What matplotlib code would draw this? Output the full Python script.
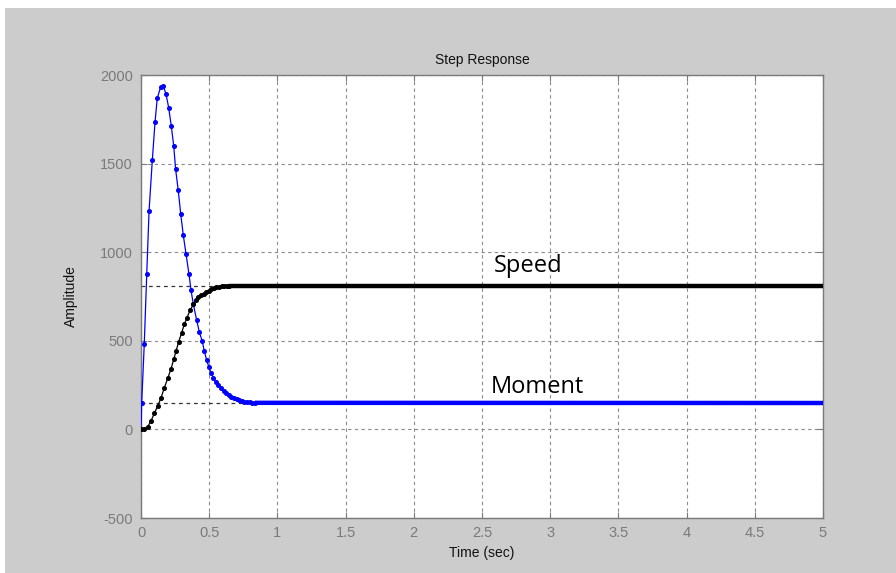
import matplotlib
matplotlib.use("Agg")
import matplotlib.pyplot as plt
from matplotlib import font_manager
from matplotlib.patches import Rectangle

plt.rcParams["axes.unicode_minus"] = False

# Moment (blue) step response samples
moment_t = [0.000, 0.005, 0.024, 0.042, 0.059, 0.083, 0.103, 0.119, 0.144, 0.163,
            0.183, 0.203, 0.222, 0.240, 0.254, 0.273, 0.291, 0.310, 0.330, 0.352,
            0.367, 0.384, 0.408, 0.427, 0.449, 0.464, 0.481, 0.498, 0.513, 0.530,
            0.549, 0.568, 0.587, 0.606, 0.625, 0.644, 0.663, 0.682, 0.701, 0.720,
            0.739, 0.758, 0.777, 0.796, 0.815, 0.834, 5.0]
moment_y = [0, 150, 483, 875, 1232, 1520, 1736, 1868, 1932, 1937,
            1894, 1815, 1712, 1599, 1467, 1349, 1217, 1096, 991, 875,
            784, 705, 617, 551, 498, 442, 391, 352, 319, 291,
            270, 250, 232, 216, 203, 192, 183, 175, 169, 164,
            160, 157, 154, 152, 151, 150, 149]

# Speed (black) step response samples
speed_t = [0.000, 0.024, 0.049, 0.073, 0.097, 0.122, 0.147, 0.171, 0.196, 0.220,
           0.240, 0.257, 0.276, 0.298, 0.317, 0.337, 0.359, 0.384, 0.403, 0.421,
           0.440, 0.459, 0.477, 0.496, 0.515, 0.534, 0.553, 0.572, 0.591, 0.610,
           0.629, 0.648, 5.0]
speed_y = [0, 3, 15, 47, 90, 131, 178, 235, 288, 342,
           395, 442, 494, 545, 592, 630, 671, 705, 730, 745,
           756, 766, 775, 783, 790, 796, 801, 805, 808, 810,
           811, 812, 812]

steady = {"speed": 812, "moment": 149}
xticks = [0, 0.5, 1, 1.5, 2, 2.5, 3, 3.5, 4, 4.5, 5]
xticklabels = ["0", "0.5", "1", "1.5", "2", "2.5", "3", "3.5", "4", "4.5", "5"]
yticks = [-500, 0, 500, 1000, 1500, 2000]

installed = {f.name for f in font_manager.fontManager.ttflist}
narrow = "Liberation Sans Narrow" if "Liberation Sans Narrow" in installed else "Liberation Sans"
label_font = "Open Sans" if "Open Sans" in installed else "DejaVu Sans"

GREY = "#7a7a7a"

fig = plt.figure(figsize=(8.96, 5.73), dpi=100, facecolor="white")
fig.patches.append(Rectangle((5 / 896, 0), 1, 1 - 8 / 573, transform=fig.transFigure,
                             facecolor="#cccccc", edgecolor="none", zorder=-10))
ax = fig.add_axes([141 / 896, 1 - 518 / 573, 682 / 896, 443 / 573])
ax.set_facecolor("white")

# steady-state lines (mostly hidden under the settled curves)
for v in steady.values():
    ax.axhline(v, color="#333333", lw=0.9, ls=(0, (3, 3)), zorder=2)

n_m = len(moment_t)
ax.plot(moment_t, moment_y, color="#0000ff", lw=0.9, marker="o", ms=2.6,
        markevery=list(range(n_m - 1)), zorder=4)
ax.plot(moment_t[-2:], moment_y[-2:], color="#0000ff", lw=3.2, solid_capstyle="butt", zorder=4)

n_s = len(speed_t)
ax.plot(speed_t, speed_y, color="black", lw=0.9, marker="o", ms=2.6,
        markevery=list(range(n_s - 1)), zorder=5)
ax.plot(speed_t[-2:], speed_y[-2:], color="black", lw=3.2, solid_capstyle="butt", zorder=5)

ax.set_xlim(0, 5)
ax.set_ylim(-500, 2000)
ax.set_xticks(xticks)
ax.set_xticklabels(xticklabels)
ax.set_yticks(yticks)
ax.grid(True, color="#8a8a8a", lw=0.8, ls=(0, (3, 3)), zorder=1)
ax.set_axisbelow(True)
ax.tick_params(direction="in", length=4, color=GREY, labelcolor=GREY,
               labelsize=10.5, top=True, right=True, pad=6)
for lab in ax.get_xticklabels() + ax.get_yticklabels():
    lab.set_family(narrow)
for s in ax.spines.values():
    s.set_color(GREY)
    s.set_linewidth(1.0)

ax.set_title("Step Response", fontsize=10, family=narrow, color="#111111", pad=8)
ax.set_xlabel("Time (sec)", fontsize=10, family=narrow, color="#111111", labelpad=4)
ax.set_ylabel("Amplitude", fontsize=10, family=narrow, color="#111111", labelpad=16)

ax.text(2.59, 889, "Speed", fontsize=17, family=label_font, color="black",
        va="baseline", zorder=6)
ax.text(2.565, 207, "Moment", fontsize=17, family=label_font, color="black",
        va="baseline", zorder=6)

fig.savefig("out.png", dpi=100, facecolor=fig.get_facecolor())
